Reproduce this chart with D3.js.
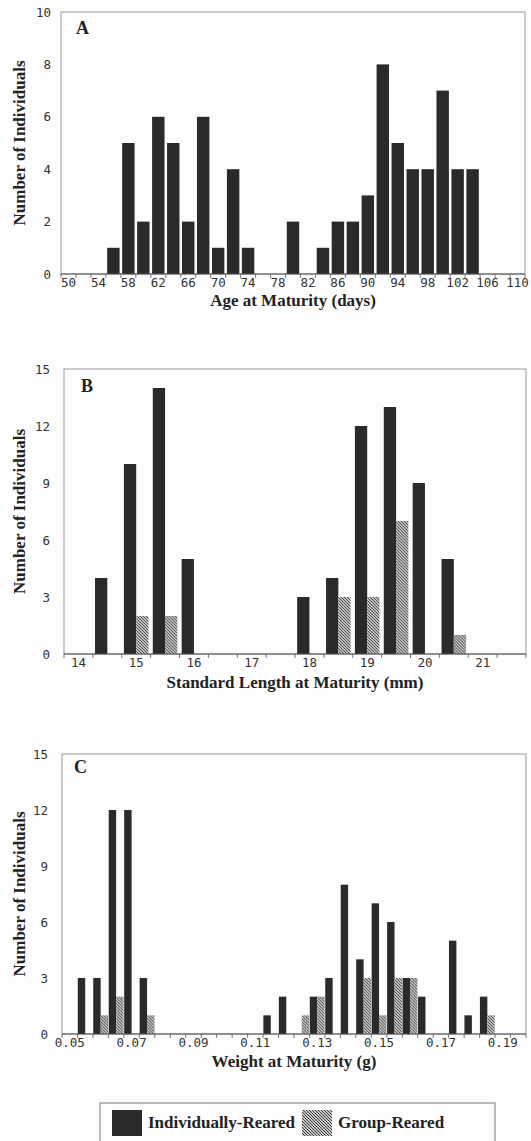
<!DOCTYPE html>
<html>
<head>
<meta charset="utf-8">
<script src="https://cdn.jsdelivr.net/npm/d3@7"></script>
<style>
  body { margin: 0; background: #fff; }
  svg { display: block; }
</style>
</head>
<body>
<svg id="fig" width="531" height="1141"></svg>
<script>
// panel A: age at maturity, 2-day bins (individually reared only)
const AGE_DAYS = [50, 52, 54, 56, 58, 60, 62, 64, 66, 68, 70, 72, 74, 76, 78, 80,
                  82, 84, 86, 88, 90, 92, 94, 96, 98, 100, 102, 104, 106, 108, 110];
const AGE_INDIV = [0, 0, 0, 1, 5, 2, 6, 5, 2, 6, 1, 4, 1, 0, 0, 2,
                   0, 1, 2, 2, 3, 8, 5, 4, 4, 7, 4, 4, 0, 0, 0];
const AGE_YTICKS = [0, 2, 4, 6, 8, 10];

// panel B: standard length, 0.5 mm bins
const LENGTH_MM = [14, 14.5, 15, 15.5, 16, 16.5, 17, 17.5, 18, 18.5, 19, 19.5, 20, 20.5, 21, 21.5];
const LENGTH_INDIV = [0, 4, 10, 14, 5, 0, 0, 0, 3, 4, 12, 13, 9, 5, 0, 0];
const LENGTH_GROUP = [0, 0, 2, 2, 0, 0, 0, 0, 0, 3, 3, 7, 0, 1, 0, 0];

// panel C: weight, 0.005 g bins
const WEIGHT_G = [0.05, 0.055, 0.06, 0.065, 0.07, 0.075, 0.08, 0.085, 0.09, 0.095,
                  0.10, 0.105, 0.11, 0.115, 0.12, 0.125, 0.13, 0.135, 0.14, 0.145,
                  0.15, 0.155, 0.16, 0.165, 0.17, 0.175, 0.18, 0.185, 0.19, 0.195];
const WEIGHT_INDIV = [0, 3, 3, 12, 12, 3, 0, 0, 0, 0,
                      0, 0, 0, 1, 2, 0, 2, 3, 8, 4,
                      7, 6, 3, 2, 0, 5, 1, 2, 0, 0];
const WEIGHT_GROUP = [0, 0, 1, 2, 0, 1, 0, 0, 0, 0,
                      0, 0, 0, 0, 0, 1, 2, 0, 0, 3,
                      1, 3, 3, 0, 0, 0, 0, 1, 0, 0];
const COUNT_YTICKS = [0, 3, 6, 9, 12, 15];

const SERIES = ["Individually-Reared", "Group-Reared"];

const DARK = "#2a2a2a";
const MONO = "'DejaVu Sans Mono', monospace";
const SERIF = "'Liberation Serif', 'Times New Roman', serif";

var svg = d3.select("#fig");
svg.append("rect").attr("width", 531).attr("height", 1141).attr("fill", "#fdfdfd");

// hatch for group-reared bars
var pat = svg.append("defs").append("pattern")
    .attr("id", "hatch")
    .attr("patternUnits", "userSpaceOnUse")
    .attr("width", 3).attr("height", 3);
pat.append("rect").attr("width", 3).attr("height", 3).attr("fill", "#c4c4c4");
pat.append("path").attr("d", "M-1,-1 L4,4 M-1,2 L1,4 M2,-1 L4,1")
    .attr("stroke", "#333").attr("stroke-width", 0.9);

function drawPanel(p) {
    var g = svg.append("g");

    var x = d3.scaleBand()
        .domain(p.cats)
        .range([p.left, p.right])
        .paddingInner(p.pad)
        .paddingOuter(p.pad / 2);

    var y = d3.scaleLinear()
        .domain([0, p.yMax])
        .range([p.bottom, p.top]);

    // frame
    g.append("rect")
        .attr("x", p.left).attr("y", p.top)
        .attr("width", p.right - p.left).attr("height", p.bottom - p.top)
        .attr("fill", "none").attr("stroke", "#9a9a9a").attr("stroke-width", 1);

    var rows = p.cats.map(function (c, i) {
        return {"cat": c, "indiv": p.indiv[i], "group": p.group ? p.group[i] : 0};
    });

    if (p.group) {
        var xs = d3.scaleBand().domain(SERIES).range([0, x.bandwidth()]);
        var grp = g.selectAll(".cat").data(rows).enter().append("g")
            .attr("transform", function (d) { return "translate(" + x(d.cat) + ",0)"; });
        grp.filter(function (d) { return d.indiv > 0; }).append("rect")
            .attr("x", xs(SERIES[0]))
            .attr("width", xs.bandwidth())
            .attr("y", function (d) { return y(d.indiv); })
            .attr("height", function (d) { return y(0) - y(d.indiv); })
            .attr("fill", DARK);
        grp.filter(function (d) { return d.group > 0; }).append("rect")
            .attr("x", xs(SERIES[1]))
            .attr("width", xs.bandwidth())
            .attr("y", function (d) { return y(d.group); })
            .attr("height", function (d) { return y(0) - y(d.group); })
            .attr("fill", "url(#hatch)");
    } else {
        g.selectAll(".bar").data(rows.filter(function (d) { return d.indiv > 0; }))
            .enter().append("rect")
            .attr("x", function (d) { return x(d.cat); })
            .attr("width", x.bandwidth())
            .attr("y", function (d) { return y(d.indiv); })
            .attr("height", function (d) { return y(0) - y(d.indiv); })
            .attr("fill", DARK);
    }

    // tick marks sit between categories
    var half = x.step() * p.pad / 2;
    var edges = p.cats.map(function (c) { return x(c) - half; });
    edges.push(p.right);
    g.selectAll(".edge").data(edges).enter().append("line")
        .attr("x1", function (d) { return d; }).attr("x2", function (d) { return d; })
        .attr("y1", p.bottom).attr("y2", p.bottom + 4)
        .attr("stroke", "#777").attr("stroke-width", 1);

    g.append("line")
        .attr("x1", p.left).attr("x2", p.right)
        .attr("y1", p.bottom).attr("y2", p.bottom)
        .attr("stroke", "#555").attr("stroke-width", 1);

    var xAxis = d3.axisBottom(x)
        .tickValues(p.cats.filter(function (c, i) { return i % p.every === 0; }))
        .tickFormat(p.fmt)
        .tickSize(0)
        .tickPadding(4);
    var xa = g.append("g").attr("transform", "translate(0," + p.bottom + ")").call(xAxis);
    xa.select(".domain").remove();
    xa.selectAll("text").attr("font-family", MONO).attr("font-size", 12.5).attr("fill", "#333");

    var yAxis = d3.axisLeft(y).tickValues(p.yTicks).tickSize(0).tickPadding(p.yPad);
    var ya = g.append("g").attr("transform", "translate(" + p.left + ",0)").call(yAxis);
    ya.select(".domain").remove();
    ya.selectAll("text").attr("font-family", MONO).attr("font-size", 12.5).attr("fill", "#333");

    g.append("text")
        .attr("transform", "rotate(-90)")
        .attr("x", -(p.top + p.bottom) / 2)
        .attr("y", 25)
        .attr("text-anchor", "middle")
        .attr("font-family", SERIF).attr("font-weight", "bold").attr("font-size", 17)
        .attr("fill", "#222")
        .text("Number of Individuals");

    g.append("text")
        .attr("x", (p.left + p.right) / 2)
        .attr("y", p.titleY)
        .attr("text-anchor", "middle")
        .attr("font-family", SERIF).attr("font-weight", "bold").attr("font-size", 17)
        .attr("fill", "#222")
        .text(p.xTitle);

    g.append("text")
        .attr("x", p.left + p.letterDx)
        .attr("y", p.top + p.letterDy)
        .attr("font-family", SERIF).attr("font-weight", "bold").attr("font-size", 18)
        .attr("fill", "#222")
        .text(p.letter);
}

drawPanel({
    "letter": "A", "cats": AGE_DAYS, "indiv": AGE_INDIV, "group": null,
    "yMax": 10, "yTicks": AGE_YTICKS, "every": 2, "fmt": d3.format("d"),
    "left": 61, "right": 525, "top": 12, "bottom": 274, "pad": 0.17, "yPad": 10,
    "xTitle": "Age at Maturity (days)", "titleY": 306, "letterDx": 15, "letterDy": 22
});

drawPanel({
    "letter": "B", "cats": LENGTH_MM, "indiv": LENGTH_INDIV, "group": LENGTH_GROUP,
    "yMax": 15, "yTicks": COUNT_YTICKS, "every": 2, "fmt": d3.format("d"),
    "left": 64, "right": 526, "top": 369, "bottom": 654, "pad": 0.15, "yPad": 14,
    "xTitle": "Standard Length at Maturity (mm)", "titleY": 688, "letterDx": 17, "letterDy": 23
});

drawPanel({
    "letter": "C", "cats": WEIGHT_G, "indiv": WEIGHT_INDIV, "group": WEIGHT_GROUP,
    "yMax": 15, "yTicks": COUNT_YTICKS, "every": 4, "fmt": d3.format(".2f"),
    "left": 62, "right": 526, "top": 754, "bottom": 1034, "pad": 0.04, "yPad": 14,
    "xTitle": "Weight at Maturity (g)", "titleY": 1067, "letterDx": 12, "letterDy": 19
});

// legend
var legend = svg.append("g");
legend.append("rect")
    .attr("x", 100).attr("y", 1103).attr("width", 395).attr("height", 50)
    .attr("fill", "none").attr("stroke", "#777").attr("stroke-width", 1);
var legendItems = [
    {"label": SERIES[0], "fill": DARK, "x": 112},
    {"label": SERIES[1], "fill": "url(#hatch)", "x": 302}
];
legend.selectAll(".sw").data(legendItems).enter().append("rect")
    .attr("x", function (d) { return d.x; }).attr("y", 1110)
    .attr("width", 30).attr("height", 26)
    .attr("fill", function (d) { return d.fill; });
legend.selectAll(".lbl").data(legendItems).enter().append("text")
    .attr("x", function (d) { return d.x + 36; }).attr("y", 1128)
    .attr("font-family", SERIF).attr("font-weight", "bold").attr("font-size", 17)
    .attr("fill", "#222")
    .text(function (d) { return d.label; });
</script>
</body>
</html>
